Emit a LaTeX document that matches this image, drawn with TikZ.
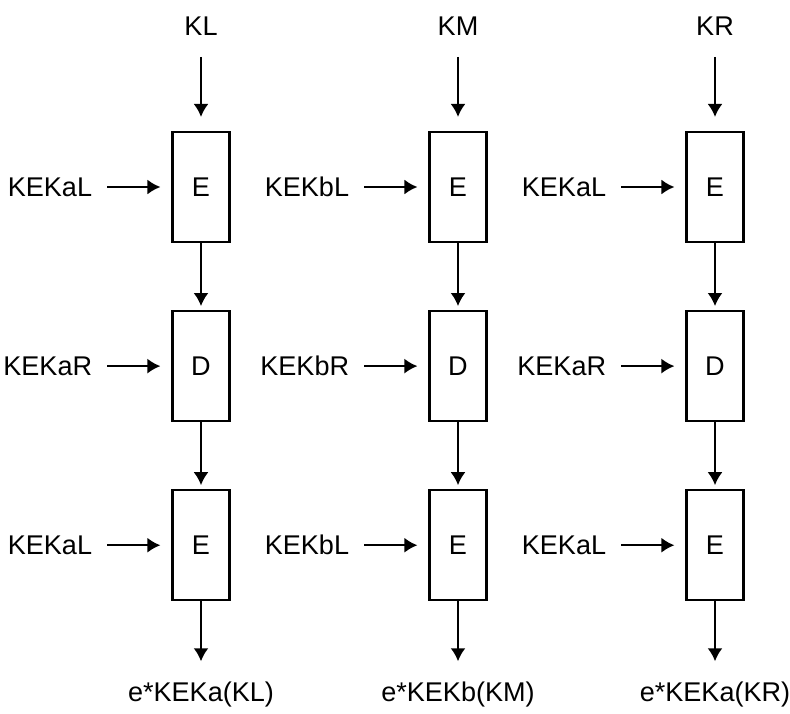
\documentclass[tikz,border=0pt]{standalone}
\usepackage{fontspec}
\setmainfont{Liberation Sans}
\usetikzlibrary{arrows.meta,positioning}

\begin{document}
\begin{tikzpicture}[
    font=\fontsize{15.4}{18}\selectfont,
    blk/.style={rectangle, draw, line width=1.2pt, minimum width=1.14cm, minimum height=2.2cm, inner sep=0pt},
    lbl/.style={inner sep=0pt},
    arrow/.style={-{Latex[length=0.26cm,width=0.3cm]}, line width=1.2pt}
]
\useasboundingbox (0,0) rectangle (15.8,-14.26);

\foreach \x/\k/\kek/\res/\c in {4.02/KL/a/{e*KEKa(KL)}/1, 9.16/KM/b/{e*KEKb(KM)}/2, 14.30/KR/a/{e*KEKa(KR)}/3} {
  % three blocks of the column
  \node[blk] (eA\c) at (\x,-3.74) {E};
  \node[blk, below=1.34cm of eA\c] (d\c) {D};
  \node[blk, below=1.34cm of d\c] (eB\c) {E};

  \node[lbl, above=1.9cm of eA\c] (k\c) {\k};
  \node[lbl, below=1.6cm of eB\c] (out\c) {\res};

  \node[lbl, left=1.58cm of eA\c] (kekA\c) {KEK\kek L};
  \node[lbl, left=1.58cm of d\c] (kekR\c) {KEK\kek R};
  \node[lbl, left=1.58cm of eB\c] (kekB\c) {KEK\kek L};

  \draw[arrow, shorten <=0.42cm, shorten >=0.28cm] (k\c) -- (eA\c);
  \draw[arrow, shorten >=0.08cm] (eA\c) -- (d\c);
  \draw[arrow, shorten >=0.08cm] (d\c) -- (eB\c);
  \draw[arrow, shorten >=0.4cm] (eB\c) -- (out\c);

  \draw[arrow, shorten <=0.3cm, shorten >=0.22cm] (kekA\c) -- (eA\c);
  \draw[arrow, shorten <=0.3cm, shorten >=0.22cm] (kekR\c) -- (d\c);
  \draw[arrow, shorten <=0.3cm, shorten >=0.22cm] (kekB\c) -- (eB\c);
}
\end{tikzpicture}
\end{document}
